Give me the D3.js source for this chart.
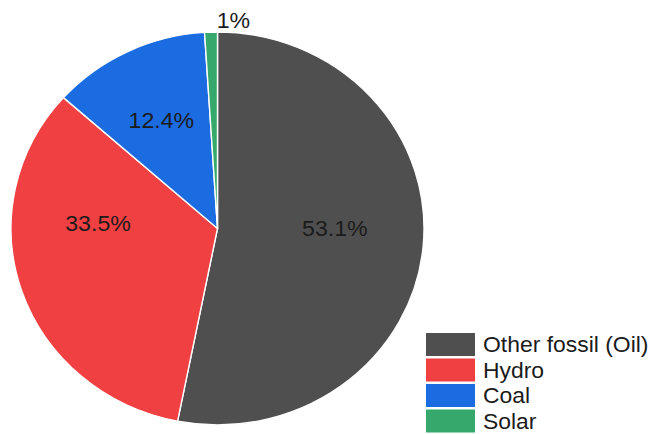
<!DOCTYPE html>
<html>
<head>
<meta charset="utf-8">
<script src="https://cdn.jsdelivr.net/npm/d3@7"></script>
<style>
  html, body { margin: 0; padding: 0; background: #fff; }
  svg { display: block; font-family: "Liberation Sans", Arial, sans-serif; }
</style>
</head>
<body>
<svg id="chart" width="652" height="434"></svg>
<script>
// Electricity generation mix (share of total, %)
const sources = ["Other fossil (Oil)", "Hydro", "Coal", "Solar"];
const shares = [53.1, 33.5, 12.4, 1.0];
const shareLabels = ["53.1%", "33.5%", "12.4%", "1%"];
const colors = ["#4f4f4f", "#f04042", "#1b6ce0", "#37a86b"];

// Layout
const W = 652, H = 434;
const cx = 217.5, cy = 228.5;
const rx = 206.5, ry = 196.5;           // pie is drawn slightly wider than tall
const sx = rx / ry;
const labelFrac = 0.6, outsideFrac = 1.1;
// fine adjustments of label anchors (px) relative to the arc centroid
const labelShift = [[-6, -12], [-2, -43], [-2, -2], [23, 8]];

const svg = d3.select("#chart");

const pie = d3.pie().sort(null).value(d => d.v).startAngle(0).endAngle(2 * Math.PI);
const data = sources.map((s, i) => ({ name: s, v: shares[i], label: shareLabels[i], color: colors[i], i }));
const arcs = pie(data);

const arc = d3.arc().innerRadius(0).outerRadius(ry);
const inLabelArc = d3.arc().innerRadius(ry * labelFrac).outerRadius(ry * labelFrac);
const outLabelArc = d3.arc().innerRadius(ry * outsideFrac).outerRadius(ry * outsideFrac);

const pieG = svg.append("g")
  .attr("transform", `translate(${cx},${cy}) scale(${sx},1)`);

pieG.selectAll("path")
  .data(arcs)
  .join("path")
  .attr("d", arc)
  .attr("fill", d => d.data.color)
  .attr("stroke", "#ffffff")
  .attr("stroke-width", 1.4)
  .attr("vector-effect", "non-scaling-stroke");

// Percentage labels: inside for large slices, above the pie for tiny ones
svg.append("g")
  .selectAll("g")
  .data(arcs)
  .join("g")
  .attr("transform", d => {
    const small = d.data.v < 3;
    const c = (small ? outLabelArc : inLabelArc).centroid(d);
    const s = labelShift[d.data.i];
    return `translate(${cx + c[0] * sx + s[0]},${cy + c[1] + s[1]}) scale(${sx},1)`;
  })
  .append("text")
  .attr("dy", "0.35em")
  .attr("text-anchor", "middle")
  .attr("font-size", 22)
  .attr("fill", "#1b1b1b")
  .text(d => d.data.label);

// Legend
const legend = svg.append("g").attr("transform", "translate(426,333)");
const rowH = 25.5;
const items = legend.selectAll("g")
  .data(data)
  .join("g")
  .attr("transform", (d, i) => `translate(0,${i * rowH})`);

items.append("rect")
  .attr("width", 49)
  .attr("height", 23)
  .attr("fill", d => d.color);

items.append("g")
  .attr("transform", `translate(57,11.5) scale(${sx},1)`)
  .append("text")
  .attr("dy", "0.35em")
  .attr("font-size", 21.8)
  .attr("fill", "#1b1b1b")
  .text(d => d.name);
</script>
</body>
</html>
